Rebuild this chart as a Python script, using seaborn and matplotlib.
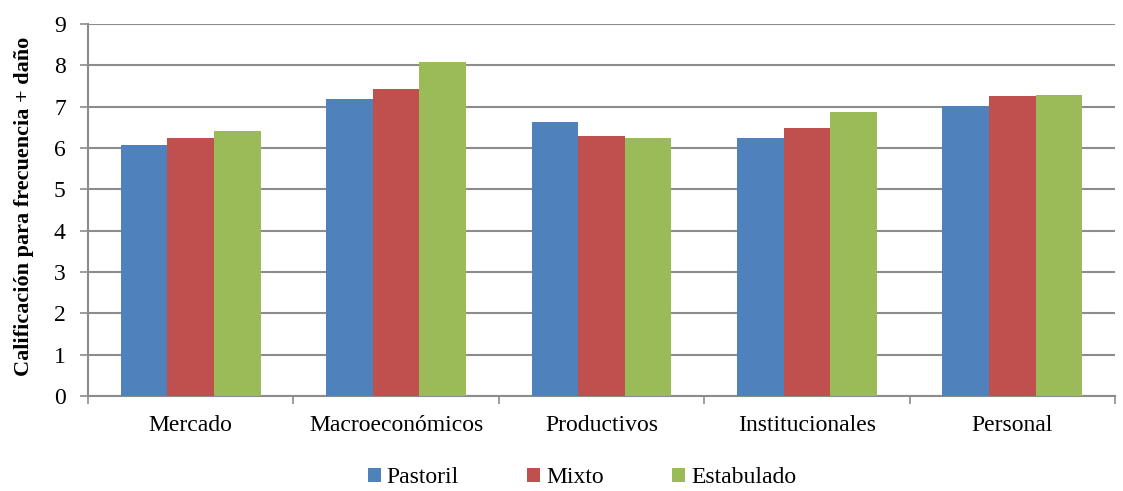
import numpy as np
import pandas as pd
import matplotlib
matplotlib.use("Agg")
import matplotlib.pyplot as plt
import seaborn as sns

categories = ["Mercado", "Macroeconómicos", "Productivos", "Institucionales", "Personal"]
series_names = ["Pastoril", "Mixto", "Estabulado"]
pastoril = [6.07, 7.18, 6.62, 6.25, 7.02]
mixto = [6.25, 7.43, 6.30, 6.49, 7.25]
estabulado = [6.41, 8.07, 6.24, 6.86, 7.29]
colors = ["#4F81BD", "#C0504D", "#9BBB59"]
y_ticks = list(range(0, 10))
y_label = "Calificación para frecuencia + daño"

rows = []
for name, vals in zip(series_names, [pastoril, mixto, estabulado]):
    for c, v in zip(categories, vals):
        rows.append({"Categoria": c, "Serie": name, "Valor": v})
df = pd.DataFrame(rows)

sns.set_theme(style="white")
plt.rcParams['font.family'] = ['Liberation Serif', 'DejaVu Serif']
plt.rcParams['text.color'] = 'black'
plt.rcParams['axes.labelcolor'] = 'black'
plt.rcParams['xtick.color'] = 'black'
plt.rcParams['ytick.color'] = 'black'

FS = 17

fig = plt.figure(figsize=(11.23, 4.91), dpi=100)
ax = fig.add_axes([88/1123, 1 - 396/491, (1115 - 88)/1123, (396 - 24)/491])

sns.barplot(data=df, x="Categoria", y="Valor", hue="Serie", order=categories,
            hue_order=series_names, palette=colors, width=0.68, ax=ax,
            saturation=1, errorbar=None, edgecolor="none", zorder=3)

ax.set_ylim(0, 9)
ax.set_xlim(-0.5, len(categories) - 0.5)
ax.set_yticks(y_ticks)
ax.set_yticklabels([str(t) for t in y_ticks], fontsize=FS)
ax.yaxis.grid(True, color="#8c8c8c", linewidth=1.5, zorder=0)
ax.set_axisbelow(True)
ax.set_xlabel("")
ax.set_ylabel(y_label, fontsize=16, fontweight="bold")
ax.yaxis.set_label_coords(-0.053, 0.51)
ax.tick_params(axis="x", labelsize=FS, length=0, pad=13.5, labelcolor="black")
ax.tick_params(axis="y", length=6, width=1.2, color="#8c8c8c", direction="out", left=True,
               pad=10, labelcolor="black")
ax.set_xticks(np.arange(-0.5, len(categories)), minor=True)
ax.tick_params(axis="x", which="minor", length=6, width=1.2, color="#8c8c8c", direction="out", bottom=True)
for s in ["top", "right"]:
    ax.spines[s].set_visible(False)
for s in ["left", "bottom"]:
    ax.spines[s].set_color("#8c8c8c")
    ax.spines[s].set_linewidth(1.5)

leg = ax.legend(loc="center", bbox_to_anchor=(0.481, -0.22), ncol=3, frameon=False,
                fontsize=FS, handlelength=0.55, handleheight=0.55, handletextpad=0.25,
                columnspacing=2.9)

fig.savefig("out.png", dpi=100)
